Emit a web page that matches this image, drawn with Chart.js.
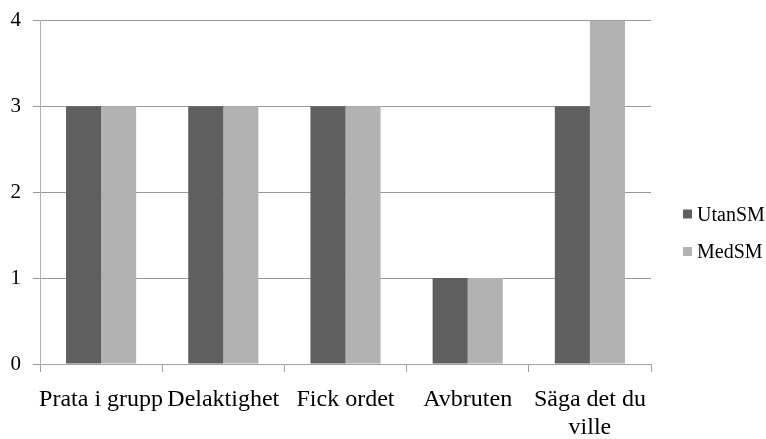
<!DOCTYPE html>
<html>
<head>
<meta charset="utf-8">
<script src="https://cdn.jsdelivr.net/npm/chart.js@4/dist/chart.umd.min.js"></script>
<style>
html,body{margin:0;padding:0;background:#fff;}
#wrap{width:766px;height:439px;position:relative;}
</style>
</head>
<body>
<div id="wrap"><canvas id="c" width="766" height="439"></canvas></div>
<script>
const categories = ["Prata i grupp", "Delaktighet", "Fick ordet", "Avbruten", ["Säga det du", "ville"]];
const seriesNames = ["UtanSM", "MedSM"];
const utanSM = [3, 3, 3, 1, 3];
const medSM = [3, 3, 3, 1, 4];
const yTicks = [0, 1, 2, 3, 4];
const colors = ["#5f5f5f", "#b2b2b2"];

const FONT = "'Liberation Serif', 'Times New Roman', serif";

const legendPlugin = {
  id: 'customLegend',
  afterDraw(chart) {
    const ctx = chart.ctx;
    ctx.save();
    ctx.font = "20px " + FONT;
    ctx.textBaseline = 'middle';
    ctx.fillStyle = '#000';
    const ys = [214.5, 252];
    chart.data.datasets.forEach((ds, i) => {
      ctx.fillStyle = ds.backgroundColor;
      ctx.fillRect(683, ys[i] - 5, 9, 9);
      ctx.fillStyle = '#000';
      ctx.fillText(ds.label, 697, ys[i] + 1);
    });
    ctx.restore();
  }
};

new Chart(document.getElementById('c'), {
  type: 'bar',
  data: {
    labels: categories,
    datasets: [
      { label: seriesNames[0], data: utanSM, backgroundColor: colors[0], categoryPercentage: 0.574, barPercentage: 1.0 },
      { label: seriesNames[1], data: medSM, backgroundColor: colors[1], categoryPercentage: 0.574, barPercentage: 1.0 }
    ]
  },
  options: {
    responsive: false,
    animation: false,
    devicePixelRatio: 1,
    layout: { padding: { left: 0, right: 115, top: 20, bottom: 0 } },
    plugins: { legend: { display: false }, tooltip: { enabled: false } },
    scales: {
      x: {
        grid: { display: true, drawOnChartArea: false, offset: true, tickLength: 8, color: '#a0a0a0' },
        border: { color: '#a0a0a0' },
        ticks: { color: '#000', font: { family: FONT, size: 24, lineHeight: 1.15 }, padding: 14, maxRotation: 0, autoSkip: false },
        afterFit(scale) { scale.height = 75; }
      },
      y: {
        min: 0, max: 4,
        afterBuildTicks(scale) { scale.ticks = yTicks.map(v => ({ value: v })); },
        grid: { color: '#999999', tickLength: 7 },
        border: { color: '#b0b0b0' },
        ticks: { color: '#000', font: { family: FONT, size: 21, lineHeight: 0.8 }, padding: 12, stepSize: 1 },
        afterFit(scale) { scale.width = 40; }
      }
    }
  },
  plugins: [legendPlugin]
});
</script>
</body>
</html>
